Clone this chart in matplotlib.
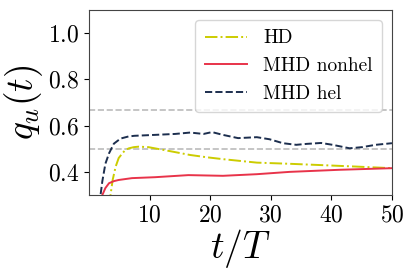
import matplotlib
matplotlib.use("Agg")
from matplotlib import pyplot as plt

plt.rcParams["font.family"] = "serif"
plt.rcParams["font.serif"] = ["cmr10"]
plt.rcParams["mathtext.fontset"] = "cm"
plt.rcParams["axes.formatter.use_mathtext"] = True

# HD curve
t_hd = [3.3, 3.55, 3.9, 4.4, 4.9, 5.5, 6.0, 6.6, 7.4, 8.2, 9.8, 13.7, 16.7, 19.5, 22.1, 27.7,
        33.1, 38.6, 44.0, 50.0]
q_hd = [0.25, 0.30, 0.365, 0.423, 0.46, 0.48, 0.495, 0.502, 0.507, 0.509, 0.507, 0.488, 0.473,
        0.463, 0.455, 0.44, 0.435, 0.429, 0.423, 0.416]

# MHD nonhelical
t_nh = [1.9, 2.2, 2.7, 3.3, 4.1, 4.9, 7.1, 10.9, 16.4, 22.1, 27.7, 33.1, 41.3, 50.0]
q_nh = [0.25, 0.30, 0.33, 0.351, 0.36, 0.365, 0.373, 0.377, 0.386, 0.383, 0.39, 0.400, 0.409, 0.416]

# MHD helical
t_h = [1.7, 1.9, 2.2, 2.7, 3.3, 4.1, 5.2, 6.5, 7.5, 10.9, 14.2, 16.7, 18.9, 20.3, 22.1, 24.6,
       27.7, 29.8, 32.0, 34.2, 35.9, 38.3, 40.2, 43.0, 45.1, 47.3, 50.0]
q_h = [0.26, 0.30, 0.36, 0.435, 0.48, 0.522, 0.544, 0.553, 0.556, 0.56, 0.564, 0.570, 0.564,
       0.572, 0.56, 0.546, 0.55, 0.541, 0.524, 0.517, 0.521, 0.525, 0.517, 0.502, 0.507, 0.517,
       0.524]

ref_levels = [0.5, 2 / 3]

fig = plt.figure(figsize=(4.15, 2.77), dpi=100)
ax = fig.add_axes([0.2145, 0.296, 0.730, 0.668])

for lev in ref_levels:
    ax.axhline(lev, color="#bbbbbb", ls="--", lw=1.2, zorder=1)

ax.plot(t_hd, q_hd, color="#cccc00", ls="-.", lw=1.4, label="HD")
ax.plot(t_nh, q_nh, color="#e8334a", ls="-", lw=1.4, label="MHD nonhel")
ax.plot(t_h, q_h, color="#1c2e4e", ls="--", lw=1.4, label="MHD hel")

ax.set_xlim(0, 50)
ax.set_ylim(0.3, 1.1)
ax.set_xticks([10, 20, 30, 40, 50])
ax.set_yticks([0.4, 0.6, 0.8, 1.0])
ax.tick_params(labelsize=17)
for s in ax.spines.values():
    s.set_color("#444444")

ax.set_xlabel(r"$t/T$", fontsize=27, labelpad=0)
ax.set_ylabel(r"$q_u(t)$", fontsize=27, labelpad=2)
ax.legend(fontsize=14, loc="upper right", handlelength=2.2, borderpad=0.5, labelspacing=0.5)

fig.savefig("out.png", dpi=100)
